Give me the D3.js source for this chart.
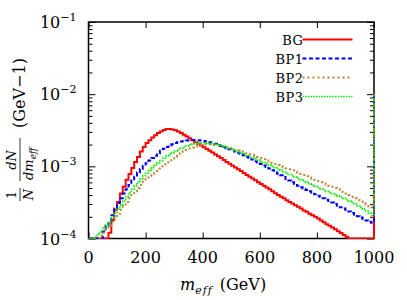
<!DOCTYPE html>
<html>
<head>
<meta charset="utf-8">
<title>meff distribution</title>
<script src="https://d3js.org/d3.v7.min.js"></script>
<style>
  body { margin: 0; background: #fff; }
  svg text { font-family: 'DejaVu Serif', serif; fill: #000; }
</style>
</head>
<body>
<div id="chart"></div>
<script>
// bins: 10 GeV wide, 0 - 1000 GeV
var binLow = d3.range(0, 1000, 10);
var seriesNames = ["BG", "BP1", "BP2", "BP3"];
var xTicks = [0, 200, 400, 600, 800, 1000];
var yDecades = [1e-4, 1e-3, 1e-2, 1e-1];
var yTickLabels = ["\u22124", "\u22123", "\u22122", "\u22121"];

var bg = [0,0,0,0,0,0,0,1.2e-4,1.8e-4,2.5e-4,
  3.2e-4,4.2e-4,5.2e-4,6.5e-4,7.8e-4,9.5e-4,1.15e-3,1.35e-3,1.6e-3,1.85e-3,
  2.1e-3,2.3e-3,2.5e-3,2.7e-3,2.9e-3,3.05e-3,3.2e-3,3.3e-3,3.3e-3,3.25e-3,
  3.15e-3,3.05e-3,2.9e-3,2.75e-3,2.6e-3,2.45e-3,2.3e-3,2.15e-3,2.05e-3,1.95e-3,
  1.84e-3,1.74e-3,1.64e-3,1.55e-3,1.46e-3,1.38e-3,1.3e-3,1.22e-3,1.15e-3,1.09e-3,
  1.02e-3,9.6e-4,9.1e-4,8.6e-4,8.1e-4,7.6e-4,7.2e-4,6.8e-4,6.4e-4,6.0e-4,
  5.7e-4,5.4e-4,5.1e-4,4.8e-4,4.5e-4,4.25e-4,4.0e-4,3.8e-4,3.6e-4,3.4e-4,
  3.2e-4,3.05e-4,2.9e-4,2.75e-4,2.6e-4,2.45e-4,2.35e-4,2.2e-4,2.1e-4,2.0e-4,
  1.9e-4,1.78e-4,1.68e-4,1.58e-4,1.5e-4,1.42e-4,1.34e-4,1.26e-4,1.19e-4,1.12e-4,
  1.06e-4,1.0e-4,0,0,0,0,0,0,0,0];

var bp1 = [0,0,0,0,1.0e-4,1.25e-4,1.5e-4,1.75e-4,2.1e-4,2.6e-4,
  3.1e-4,3.6e-4,4.2e-4,4.8e-4,5.5e-4,6.3e-4,7.2e-4,8.2e-4,9.2e-4,1.02e-3,
  1.1e-3,1.2e-3,1.3e-3,1.4e-3,1.52e-3,1.65e-3,1.75e-3,1.85e-3,1.95e-3,2.02e-3,
  2.1e-3,2.15e-3,2.2e-3,2.24e-3,2.28e-3,2.3e-3,2.32e-3,2.32e-3,2.3e-3,2.28e-3,
  2.25e-3,2.2e-3,2.15e-3,2.1e-3,2.05e-3,1.98e-3,1.92e-3,1.85e-3,1.78e-3,1.72e-3,
  1.66e-3,1.6e-3,1.54e-3,1.48e-3,1.42e-3,1.36e-3,1.3e-3,1.24e-3,1.18e-3,1.13e-3,
  1.08e-3,1.03e-3,9.8e-4,9.3e-4,8.8e-4,8.3e-4,7.9e-4,7.5e-4,7.1e-4,6.7e-4,
  6.35e-4,6.0e-4,5.7e-4,5.4e-4,5.15e-4,4.9e-4,4.7e-4,4.5e-4,4.3e-4,4.1e-4,
  3.9e-4,3.75e-4,3.6e-4,3.45e-4,3.3e-4,3.15e-4,3.0e-4,2.85e-4,2.7e-4,2.6e-4,
  2.48e-4,2.36e-4,2.25e-4,2.14e-4,2.04e-4,1.95e-4,1.86e-4,1.78e-4,1.7e-4,1.65e-4];

var bp2 = [0,0,0,1.0e-4,1.1e-4,1.2e-4,1.35e-4,1.5e-4,1.7e-4,1.9e-4,
  2.2e-4,2.5e-4,2.8e-4,3.2e-4,3.6e-4,4.0e-4,4.5e-4,5.0e-4,5.5e-4,6.1e-4,
  6.7e-4,7.3e-4,7.9e-4,8.6e-4,9.3e-4,1.0e-3,1.07e-3,1.14e-3,1.21e-3,1.28e-3,
  1.36e-3,1.44e-3,1.52e-3,1.6e-3,1.68e-3,1.76e-3,1.83e-3,1.9e-3,1.95e-3,1.99e-3,
  2.02e-3,2.03e-3,2.02e-3,2.0e-3,1.97e-3,1.94e-3,1.9e-3,1.86e-3,1.82e-3,1.78e-3,
  1.74e-3,1.7e-3,1.66e-3,1.62e-3,1.57e-3,1.52e-3,1.47e-3,1.43e-3,1.39e-3,1.35e-3,
  1.3e-3,1.25e-3,1.2e-3,1.16e-3,1.12e-3,1.08e-3,1.04e-3,1.0e-3,9.7e-4,9.4e-4,
  9.1e-4,8.8e-4,8.5e-4,8.2e-4,7.9e-4,7.6e-4,7.3e-4,7.0e-4,6.75e-4,6.5e-4,
  6.25e-4,6.0e-4,5.8e-4,5.6e-4,5.4e-4,5.2e-4,5.0e-4,4.8e-4,4.6e-4,4.4e-4,
  4.2e-4,4.0e-4,3.8e-4,3.6e-4,3.4e-4,3.25e-4,3.1e-4,2.95e-4,2.8e-4,2.7e-4];

var bp3 = [0,1.0e-4,1.05e-4,1.15e-4,1.25e-4,1.4e-4,1.55e-4,1.7e-4,1.95e-4,2.25e-4,
  2.55e-4,2.9e-4,3.3e-4,3.8e-4,4.3e-4,4.8e-4,5.4e-4,6.0e-4,6.7e-4,7.4e-4,
  8.1e-4,8.8e-4,9.6e-4,1.04e-3,1.12e-3,1.2e-3,1.3e-3,1.38e-3,1.46e-3,1.54e-3,
  1.62e-3,1.7e-3,1.78e-3,1.85e-3,1.92e-3,1.98e-3,2.03e-3,2.07e-3,2.1e-3,2.12e-3,
  2.12e-3,2.1e-3,2.08e-3,2.05e-3,2.02e-3,1.98e-3,1.94e-3,1.89e-3,1.84e-3,1.78e-3,
  1.72e-3,1.66e-3,1.6e-3,1.54e-3,1.48e-3,1.42e-3,1.37e-3,1.32e-3,1.27e-3,1.22e-3,
  1.17e-3,1.12e-3,1.08e-3,1.04e-3,1.0e-3,9.6e-4,9.2e-4,8.8e-4,8.4e-4,8.0e-4,
  7.7e-4,7.4e-4,7.1e-4,6.8e-4,6.5e-4,6.25e-4,6.0e-4,5.75e-4,5.5e-4,5.3e-4,
  5.1e-4,4.9e-4,4.7e-4,4.5e-4,4.35e-4,4.2e-4,4.05e-4,3.9e-4,3.75e-4,3.6e-4,
  3.45e-4,3.3e-4,3.15e-4,3.0e-4,2.85e-4,2.7e-4,2.55e-4,2.4e-4,2.25e-4,2.1e-4];

// overflow bin beyond 1000 GeV (only its rising edge shows at the right border)
var overflow = [1e-2, 1e-2, 1e-2, 1e-2];

var colors = ["#ff0000", "#0000ff", "#b8862f", "#00ee00"];
var dashes = [null, "4,2.5", "2,3", "1.5,1.2"];
var widths = [2, 2, 2, 1.6];

var margin = { top: 22, right: 33, bottom: 61.5, left: 88.5 };
var width = 407 - margin.left - margin.right;
var height = 300 - margin.top - margin.bottom;

var svg = d3.select("#chart").append("svg")
  .attr("width", 407)
  .attr("height", 300);

var g = svg.append("g")
  .attr("transform", "translate(" + margin.left + "," + margin.top + ")");

var x = d3.scaleLinear().domain([0, 1000]).range([0, width]);
var y = d3.scaleLog().domain([1e-4, 1e-1]).range([height, 0]);

svg.append("defs").append("clipPath").attr("id", "clip")
  .append("rect").attr("x", 0).attr("y", -1).attr("width", width + 1).attr("height", height + 1.5);

// axes with inward ticks
var minor = y.ticks();
function isMajor(v) { return Math.abs(Math.log10(v) - Math.round(Math.log10(v))) < 1e-6; }

var xb = g.append("g").attr("transform", "translate(0," + height + ")")
  .call(d3.axisBottom(x).tickValues(xTicks).tickSize(-6).tickFormat(""));
var xt = g.append("g")
  .call(d3.axisTop(x).tickValues(xTicks).tickSize(-6).tickFormat(""));
var yl = g.append("g")
  .call(d3.axisLeft(y).tickValues(minor).tickSize(-7).tickFormat(""));
var yr = g.append("g").attr("transform", "translate(" + width + ",0)")
  .call(d3.axisRight(y).tickValues(minor).tickSize(-7).tickFormat(""));

yl.selectAll(".tick line").attr("x2", function (d) { return isMajor(d) ? 7 : 4; });
yr.selectAll(".tick line").attr("x2", function (d) { return isMajor(d) ? -7 : -4; });
[xb, xt, yl, yr].forEach(function (a) {
  a.select(".domain").remove();
  a.selectAll(".tick line").attr("stroke", "#000").attr("stroke-width", 1);
});

g.append("rect")
  .attr("width", width).attr("height", height)
  .attr("fill", "none").attr("stroke", "#000").attr("stroke-width", 1.5);

// curves (drawn over the frame, as in the original)
var allSeries = [bg, bp1, bp2, bp3];
var line = d3.line()
  .x(function (d) { return x(d[0]); })
  .y(function (d) { return y(Math.max(d[1], 1e-4)); })
  .curve(d3.curveStepAfter);

var curves = g.append("g").attr("clip-path", "url(#clip)");
allSeries.forEach(function (s, k) {
  var pts = binLow.map(function (b, i) { return [b, s[i]]; });
  pts.push([1000, s[s.length - 1]]);
  pts.push([1000, overflow[k]]);
  curves.append("path")
    .attr("d", line(pts))
    .attr("fill", "none")
    .attr("stroke", colors[k])
    .attr("stroke-width", widths[k])
    .attr("stroke-dasharray", dashes[k]);
});

// tick labels
g.selectAll(".xlab").data(xTicks).join("text")
  .attr("class", "xlab")
  .attr("x", function (d) { return x(d); })
  .attr("y", height + 24)
  .attr("text-anchor", "middle")
  .style("font-size", "16px")
  .text(function (d) { return d; });

var ylab = g.selectAll(".ylab").data(yDecades).join("text")
  .attr("class", "ylab")
  .attr("x", -12)
  .attr("y", function (d) { return y(d) + 6; })
  .attr("text-anchor", "end")
  .style("font-size", "16px");
ylab.append("tspan").text("10");
ylab.append("tspan")
  .attr("dy", -7)
  .style("font-size", "11px")
  .text(function (d, i) { return yTickLabels[i]; });

// x title
var xt2 = svg.append("text")
  .attr("x", 180).attr("y", 290)
  .style("font-size", "16px");
xt2.append("tspan").style("font-style", "italic").text("m");
xt2.append("tspan").attr("dy", 4).style("font-size", "11px").style("font-style", "italic")
  .style("letter-spacing", "1px").text("eff");
xt2.append("tspan").attr("dy", -4).attr("dx", 7).text("(GeV)");

// y title, rotated
var yt = svg.append("g").attr("transform", "translate(25,202) rotate(-90)");
yt.append("text").attr("x", 7).attr("y", -9).attr("text-anchor", "middle")
  .style("font-size", "12px").text("1");
yt.append("line").attr("x1", 1).attr("x2", 14).attr("y1", -5).attr("y2", -5)
  .attr("stroke", "#000").attr("stroke-width", 0.8);
yt.append("text").attr("x", 7.5).attr("y", 8).attr("text-anchor", "middle")
  .style("font-size", "13px").style("font-style", "italic").text("N");

yt.append("text").attr("x", 42).attr("y", -9).attr("text-anchor", "middle")
  .style("font-size", "13px").style("font-style", "italic").text("dN");
yt.append("line").attr("x1", 21).attr("x2", 64).attr("y1", -5).attr("y2", -5)
  .attr("stroke", "#000").attr("stroke-width", 0.8);
var den = yt.append("text").attr("x", 22).attr("y", 8)
  .style("font-size", "13px").style("font-style", "italic");
den.append("tspan").text("dm");
den.append("tspan").attr("dy", 3).style("font-size", "9px").text("eff");

yt.append("text").attr("x", 74).attr("y", 0)
  .style("font-size", "16px").text("(GeV\u22121)");

// legend
var legend = g.selectAll(".leg").data(seriesNames).join("g")
  .attr("class", "leg")
  .attr("transform", function (d, i) { return "translate(0," + (17.5 + 19 * i) + ")"; });
legend.append("text")
  .attr("x", 215).attr("y", 5)
  .attr("text-anchor", "end")
  .style("font-size", "13px")
  .style("letter-spacing", "0.5px")
  .text(function (d) { return d; });
legend.append("line")
  .attr("x1", 214).attr("x2", 264)
  .attr("stroke", function (d, i) { return colors[i]; })
  .attr("stroke-width", function (d, i) { return widths[i]; })
  .attr("stroke-dasharray", function (d, i) { return dashes[i]; });
</script>
</body>
</html>
